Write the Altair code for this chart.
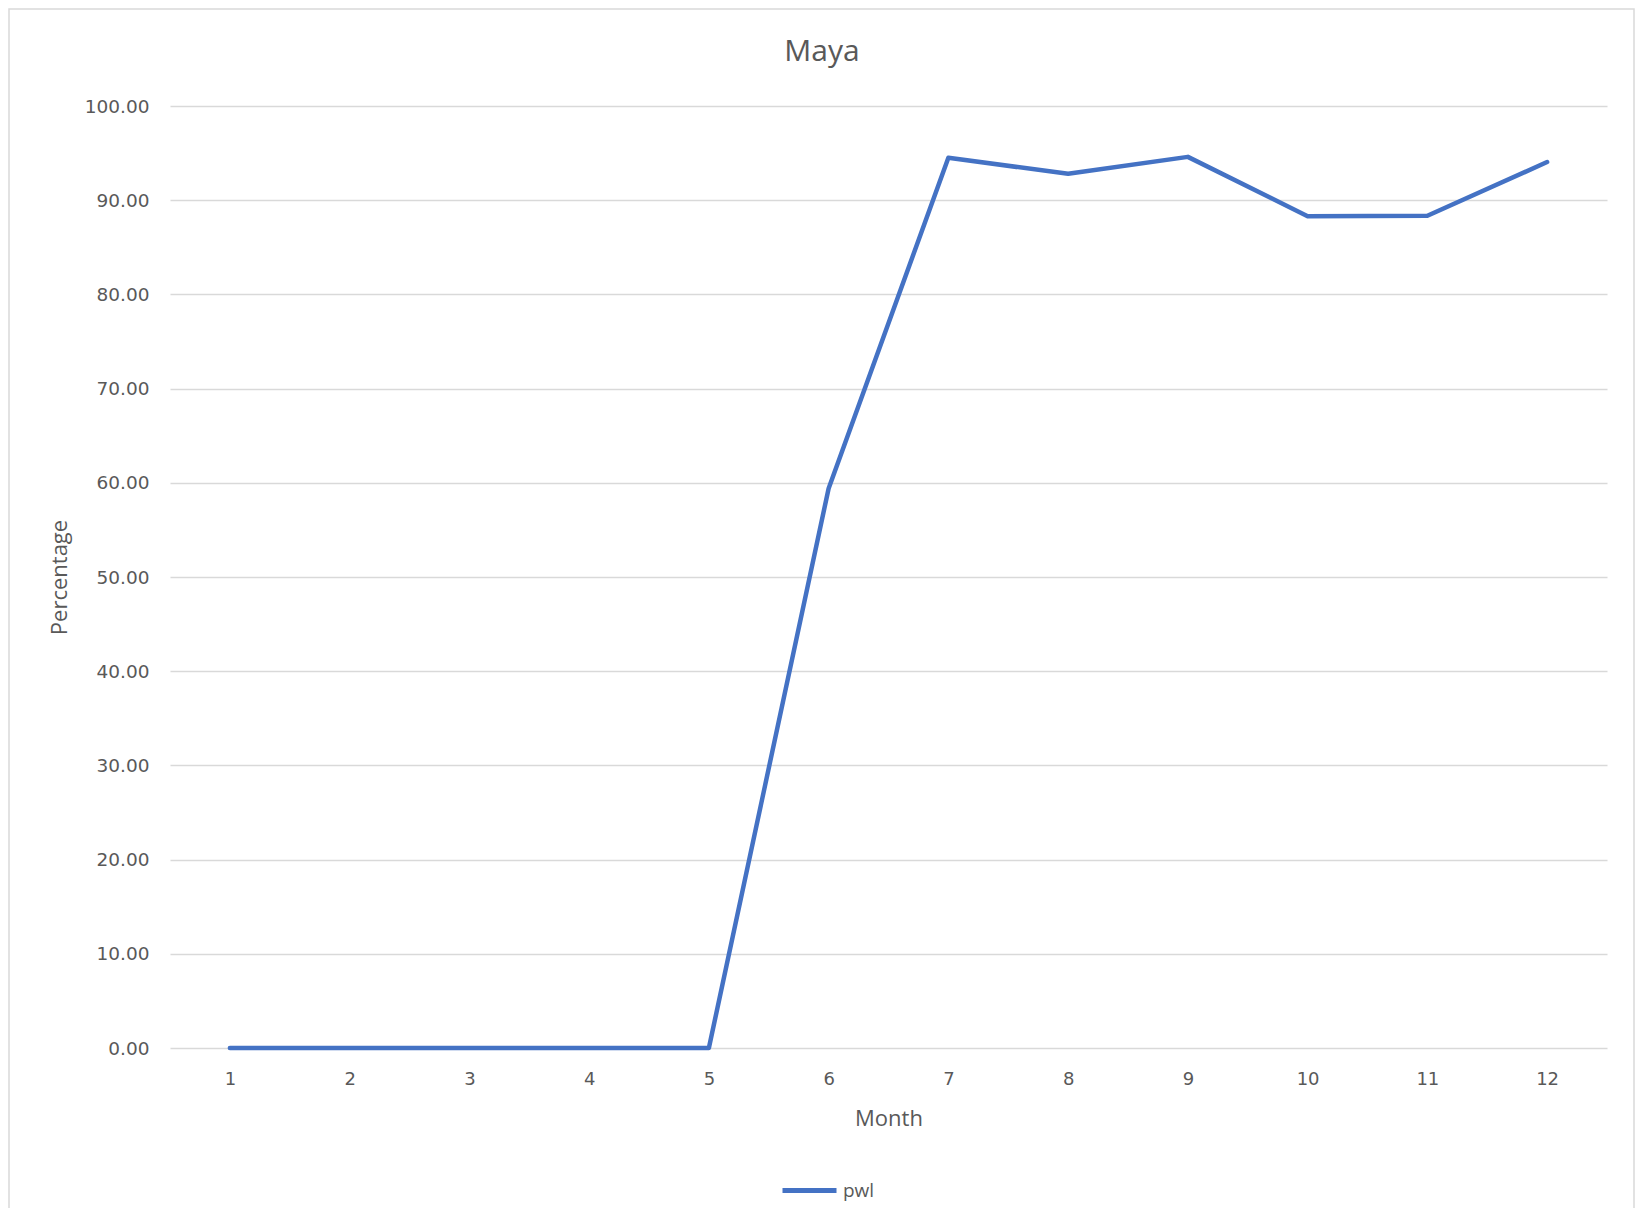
import altair as alt
import pandas as pd

months = [1, 2, 3, 4, 5, 6, 7, 8, 9, 10, 11, 12]
pwl = [0.0, 0.0, 0.0, 0.0, 0.0, 59.4, 94.5, 92.8, 94.6, 88.3, 88.35, 94.05]
y_ticks = [0, 10, 20, 30, 40, 50, 60, 70, 80, 90, 100]
series_name = "pwl"
chart_title = "Maya"

df = pd.DataFrame({"Month": months, "Percentage": pwl, "series": [series_name] * len(months)})

TXT = "#595959"
FONT = "Open Sans"
TICKFONT = "DejaVu Sans"

line = alt.Chart(df).mark_line(strokeWidth=4.5, strokeCap="round", strokeJoin="round").encode(
    x=alt.X("Month:O", scale=alt.Scale(type="point", padding=0.5),
            axis=alt.Axis(labelAngle=0, domain=False, ticks=False, grid=False,
                          labelFont=TICKFONT, labelFontSize=18, labelColor=TXT, labelPadding=22,
                          title="Month", titleFont=FONT, titleFontSize=22, titleFontWeight="normal",
                          titleColor=TXT, titleY=70, titleBaseline="middle")),
    y=alt.Y("Percentage:Q", scale=alt.Scale(domain=[0, 100], nice=False),
            axis=alt.Axis(values=y_ticks, format=".2f", domain=False, ticks=False,
                          grid=True, gridColor="#d9d9d9", gridWidth=1.5,
                          labelFont=TICKFONT, labelFontSize=18.5, labelColor=TXT, labelPadding=21,
                          title="Percentage", titleFont=FONT, titleFontSize=22, titleFontWeight="normal",
                          titleColor=TXT, titleX=-111, titleY=471, titleAngle=-90,
                          titleAlign="center", titleBaseline="middle")),
    color=alt.Color("series:N", scale=alt.Scale(domain=[series_name], range=["#4472C4"]),
                    legend=alt.Legend(title=None, orient="none", legendX=610, legendY=1055,
                                      symbolType="stroke", symbolSize=2916, symbolStrokeWidth=5,
                                      labelFont=FONT, labelFontSize=19, labelColor=TXT,
                                      labelOffset=4, padding=0)),
)

border = alt.Chart(pd.DataFrame({"b": [0]})).mark_rect(
    filled=False, stroke="#d9d9d9", strokeWidth=1.5, clip=False
).encode(
    x=alt.value(-161), x2=alt.value(1464), y=alt.value(-97), y2=alt.value(1200)
)

title = alt.Chart(pd.DataFrame({"t": [chart_title]})).mark_text(
    font=FONT, fontSize=30, color=TXT, align="center", baseline="alphabetic", clip=False
).encode(text="t:N", x=alt.value(652), y=alt.value(-45))

chart = alt.layer(border, line, title).properties(
    width=1437, height=942,
    autosize=alt.AutoSizeParams(type="none"),
    padding={"left": 162, "top": 98, "right": 30, "bottom": 160},
).configure_view(stroke=None)

chart.save("out.html", embed_options={"renderer": "svg", "actions": False})
